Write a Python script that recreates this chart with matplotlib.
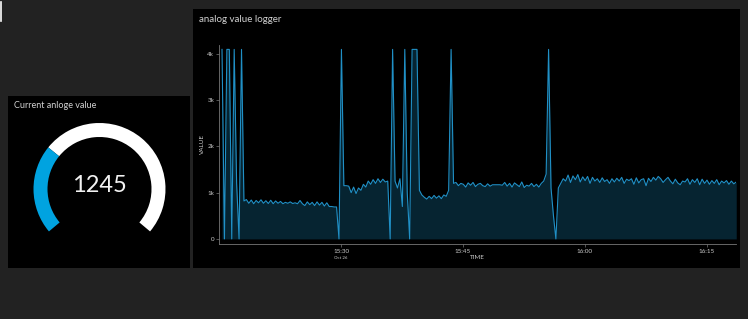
import matplotlib.pyplot as plt
import numpy as np
from matplotlib.patches import Wedge, Rectangle

# gauge
gauge_value = 1245
gauge_max = 4095

# logger samples (one sample every 0.3 min, starting at 15:15.3)
t_start = 15.33
t_step = 0.3
values = (
    [4095, 0, 4095, 4095, 0, 4095, 1200, 0, 4095, 820]
    + [850, 770, 840, 760, 830, 780, 845, 770, 825, 765, 835, 760, 820, 770, 810, 760]
    + [790, 770, 800, 765, 780, 760, 830, 760, 720, 800, 740, 790, 720, 800, 730, 790,
       710, 780, 700, 700, 690, 690]
    + [0, 4095]
    + [1150, 1150, 1140, 1000, 1120, 980, 1100, 1050, 1180, 1120, 1250, 1180, 1280, 1200,
       1300, 1220, 1290, 1230, 1250]
    + [0, 4095, 1250, 1100, 1300, 700, 4095, 1000, 0, 4095, 4095, 4095]
    + [1050, 950, 900, 860, 920, 870, 940, 880, 930, 870, 950, 920, 1050]
    + [4095]
    + [1200, 1220, 1150, 1200, 1180, 1120, 1210, 1160, 1220, 1130, 1180, 1200, 1150, 1130,
       1190, 1140, 1170, 1170, 1170, 1170, 1160, 1220, 1140, 1200, 1120, 1210, 1170, 1130,
       1230, 1110, 1160, 1140, 1200, 1130, 1180, 1120, 1200, 1250]
    + [1400, 4095, 1100, 500, 0, 1100]
    + [1200, 1300, 1250, 1380, 1220, 1360, 1280, 1390, 1230, 1340,
       1260, 1350, 1200, 1330, 1250, 1300, 1220, 1320, 1240, 1280,
       1200, 1300, 1230, 1310, 1250, 1330, 1200, 1290, 1260, 1300,
       1180, 1320, 1210, 1280, 1300, 1150, 1310, 1240, 1330, 1270,
       1350, 1300, 1220, 1280, 1330, 1250, 1190, 1290, 1210, 1170,
       1250, 1230, 1300, 1180, 1280, 1220, 1300, 1170, 1290, 1200,
       1270, 1180, 1260, 1200, 1280, 1170, 1250, 1210, 1260, 1180,
       1250, 1190, 1230]
)
times = t_start + t_step * np.arange(len(values))

x_ticks = [30, 45, 60, 75]
x_tick_labels = ['15:30', '15:45', '16:00', '16:15']
y_ticks = [0, 1000, 2000, 3000, 4000]
y_tick_labels = ['0', '1k', '2k', '3k', '4k']

W, H = 748, 319
plt.rcParams['font.family'] = ['Lato', 'DejaVu Sans']
fig = plt.figure(figsize=(W / 100, H / 100), dpi=100, facecolor='#222222')


def rect(x, y, w, h):
    # pixel box (top-left origin) -> figure fraction
    return [x / W, 1 - (y + h) / H, w / W, h / H]


# panels
for (px, py, pw, ph) in [(8, 96, 182, 172), (193, 9, 547, 259)]:
    fig.patches.append(Rectangle((px / W, 1 - (py + ph) / H), pw / W, ph / H,
                                 transform=fig.transFigure, facecolor='black',
                                 edgecolor='none', zorder=-5))
fig.add_artist(plt.Line2D([1 / W, 1 / W], [1 - 2 / H, 1 - 21 / H],
                          transform=fig.transFigure, color='white', lw=1.2))

fig.text(199 / W, 1 - 19 / H, 'analog value logger', color='#d0d0d0', fontsize=7,
         va='center', ha='left')
fig.text(14 / W, 1 - 106 / H, 'Current anloge value', color='#d0d0d0', fontsize=6.5,
         va='center', ha='left')

# line chart
ax = fig.add_axes(rect(219, 45, 517, 199))
ax.set_facecolor('black')
ax.fill_between(times, values, 0, color='#062431', lw=0)
ax.plot(times, values, color='#2090c6', lw=0.8)
ax.set_xlim(14.96, 78.6)
ax.set_ylim(-110, 4190)
for s in ['top', 'right']:
    ax.spines[s].set_visible(False)
for s in ['left', 'bottom']:
    ax.spines[s].set_color('#777777')
    ax.spines[s].set_linewidth(0.6)
ax.set_xticks(x_ticks)
ax.set_xticklabels(x_tick_labels)
ax.set_yticks(y_ticks)
ax.set_yticklabels(y_tick_labels)
ax.tick_params(colors='#777777', labelcolor='#cccccc', labelsize=4.5, length=2,
               width=0.5, pad=1.5)
ax.set_xlabel('TIME', color='#cccccc', fontsize=4.5, labelpad=1)
ax.set_ylabel('VALUE', color='#cccccc', fontsize=4.5, labelpad=2)
ax.text(30, -0.062, 'Oct 26', transform=ax.get_xaxis_transform(), color='#cccccc',
        fontsize=3.2, ha='center', va='top')

# gauge
gx = fig.add_axes(rect(8, 96, 182, 172))
gx.set_xlim(8, 190)
gx.set_ylim(H - 268, H - 96)
gx.axis('off')
cx, cy, r, w = 99.5, H - 189, 66, 14
a0, a1 = -40, 220
split = a1 - (a1 - a0) * gauge_value / gauge_max
gx.add_patch(Wedge((cx, cy), r, a0, split, width=w, facecolor='white', edgecolor='none'))
gx.add_patch(Wedge((cx, cy), r, split, a1, width=w, facecolor='#00a3e0', edgecolor='none'))
gx.text(cx, H - 185, str(gauge_value), color='#f2f2f2', fontsize=17, fontweight='normal',
        ha='center', va='center')

fig.savefig('out.png', dpi=100, facecolor=fig.get_facecolor())
